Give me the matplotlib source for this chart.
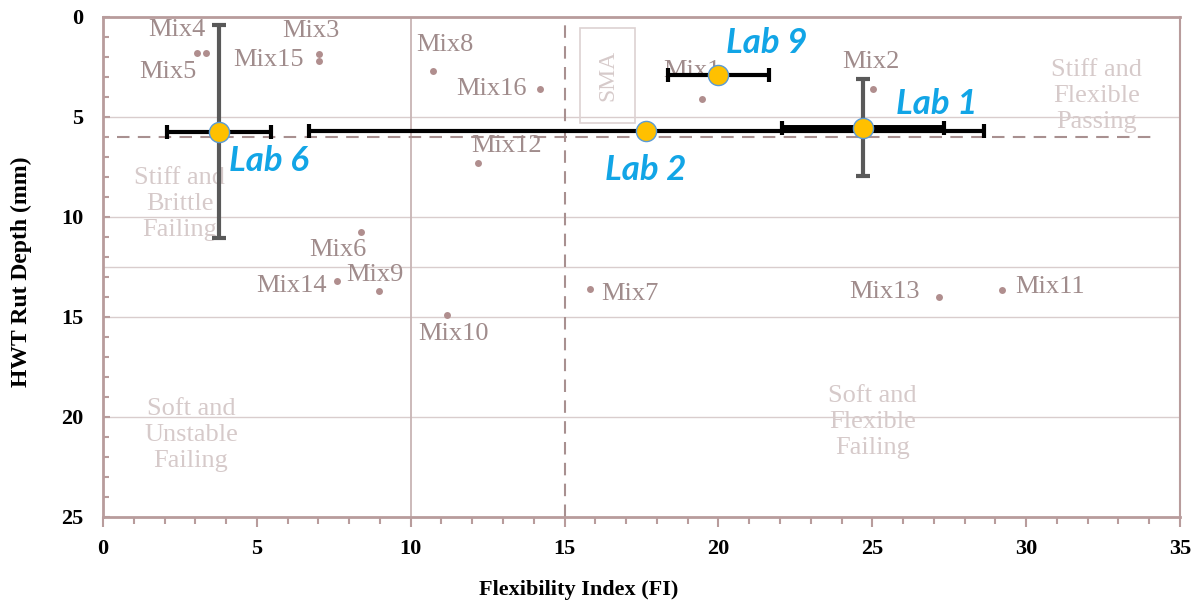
import matplotlib.pyplot as plt
from matplotlib.patches import Rectangle
from matplotlib.ticker import MultipleLocator

# ---------- data ----------
mix_names = ["Mix1", "Mix2", "Mix3", "Mix4", "Mix5", "Mix6", "Mix7", "Mix8",
             "Mix9", "Mix10", "Mix11", "Mix12", "Mix13", "Mix14", "Mix15", "Mix16"]
mix_fi = [19.45, 25.03, 7.02, 3.35, 3.05, 8.38, 15.84, 10.73,
          8.98, 11.17, 29.21, 12.2, 27.16, 7.62, 7.02, 14.2]
mix_rut = [4.09, 3.58, 1.83, 1.79, 1.79, 10.74, 13.58, 2.71,
           13.68, 14.92, 13.67, 7.3, 14.02, 13.2, 2.21, 3.58]

lab_names = ["Lab 1", "Lab 2", "Lab 6", "Lab 9"]
lab_fi = [24.69, 17.65, 3.77, 20.0]
lab_rut = [5.54, 5.71, 5.73, 2.91]
lab_fi_err = [2.63, 10.97, 1.68, 1.63]
lab_rut_err = [2.43, 0.0, 5.33, 0.0]

fi_limit = 15
fi_line = 10
rut_limit = 6.0

# ---------- styling / label placement ----------
MIX_COLOR = "#b08e8e"
MIX_TEXT = "#a08c8c"
ZONE_TEXT = "#d6caca"
SPINE = "#b89c9c"
GRID = "#d9cdcd"
LAB_BLUE = "#12a5e6"

# label offsets (pixels) from each mix point
mix_offsets = {
    "Mix1": (-10, 28), "Mix2": (-2, 27), "Mix3": (-8, 23), "Mix4": (-29, 23),
    "Mix5": (-29, -19), "Mix6": (-23, -18), "Mix7": (39, -5), "Mix8": (12, 26),
    "Mix9": (-4, 16), "Mix10": (7, -19), "Mix11": (48, 3), "Mix12": (28, 17),
    "Mix13": (-54, 5), "Mix14": (-46, -5), "Mix15": (-51, 1), "Mix16": (-48, 0),
}
lab_offsets = {
    "Lab 1": ((33, 24), "left"), "Lab 2": ((0, -39), "center"),
    "Lab 6": ((10, -29), "left"), "Lab 9": ((8, 32), "left"),
}
lab_barwidth = {"Lab 1": 5, "Lab 2": 3, "Lab 6": 3, "Lab 9": 3}

SERIF = ["Liberation Serif", "DejaVu Serif"]

fig = plt.figure(figsize=(11.97, 6.02), dpi=100)
ax = fig.add_axes([103 / 1197, 1 - 517 / 602, 1077 / 1197, 500 / 602])

ax.set_xlim(0, 35)
ax.set_ylim(25, 0)

# grid and reference lines
for yv in [5, 10, 12.5, 15, 20]:
    ax.axhline(yv, color=GRID, lw=1.0, zorder=0)
ax.axvline(fi_line, color="#c8b4b4", lw=1.3, zorder=0)
ax.axvline(fi_limit, color="#a89090", lw=1.5, ls=(0, (6, 4)), zorder=1)
ax.plot([0.45, 34.3], [rut_limit, rut_limit], color="#a89090", lw=1.5,
        ls=(0, (6, 4)), zorder=1)

# SMA box
ax.add_patch(Rectangle((15.5, 0.55), 1.8, 4.75, fill=False, ec="#ddd2d2", lw=1.2, zorder=1))
ax.text(16.4, 2.9, "SMA", rotation=90, ha="center", va="center", fontsize=17,
        color=ZONE_TEXT, family=SERIF)

# zone labels
zones = [
    (2.5, 9.35, "Stiff and\nBrittle\nFailing"),
    (2.86, 20.9, "Soft and\nUnstable\nFailing"),
    (25.0, 20.25, "Soft and\nFlexible\nFailing"),
    (32.3, 3.95, "Stiff and\nFlexible\nPassing"),
]
for zx, zy, zt in zones:
    ax.text(zx, zy, zt, ha="center", va="center", fontsize=19, color=ZONE_TEXT,
            family=SERIF, linespacing=1.25, zorder=1)

# mix points
ax.plot(mix_fi, mix_rut, "o", ms=5, color=MIX_COLOR, mec="none", zorder=2)
for name, fx, ry in zip(mix_names, mix_fi, mix_rut):
    dx, dy = mix_offsets[name]
    ax.annotate(name, (fx, ry), xytext=(dx, dy), textcoords="offset pixels",
                ha="center", va="center", fontsize=19, color=MIX_TEXT,
                family=SERIF, zorder=2)

# lab results with error bars
for name, fx, ry, ex, ey in zip(lab_names, lab_fi, lab_rut, lab_fi_err, lab_rut_err):
    if ey > 0:
        ax.errorbar(fx, ry, yerr=ey, fmt="none", ecolor="#595959", elinewidth=3,
                    capsize=5, capthick=3, zorder=4)
    ax.errorbar(fx, ry, xerr=ex, fmt="none", ecolor="black",
                elinewidth=lab_barwidth[name], capsize=5, capthick=3, zorder=5)
ax.plot(lab_fi, lab_rut, "o", ms=14.5, mfc="#ffc000", mec="#5b9bd5", mew=1.0, zorder=6)
for name, fx, ry in zip(lab_names, lab_fi, lab_rut):
    (dx, dy), ha = lab_offsets[name]
    ax.annotate(name, (fx, ry), xytext=(dx, dy), textcoords="offset pixels",
                ha=ha, va="center", fontsize=25, color=LAB_BLUE,
                family=["Lato", "DejaVu Sans"], fontweight="bold", style="italic",
                zorder=7)

# axes
for side in ["left", "bottom", "top"]:
    ax.spines[side].set_color(SPINE)
    ax.spines[side].set_linewidth(2)
ax.spines["right"].set_color(SPINE)
ax.spines["right"].set_linewidth(1.5)

ax.xaxis.set_major_locator(MultipleLocator(5))
ax.xaxis.set_minor_locator(MultipleLocator(1))
ax.yaxis.set_major_locator(MultipleLocator(5))
ax.yaxis.set_minor_locator(MultipleLocator(1))
ax.tick_params(axis="x", which="both", direction="out", color=SPINE, width=1.5)
ax.tick_params(axis="x", which="major", length=7, pad=9, labelsize=16)
ax.tick_params(axis="x", which="minor", length=5)
ax.tick_params(axis="y", which="both", direction="in", color=SPINE, width=1.5)
ax.tick_params(axis="y", which="major", length=5, pad=14, labelsize=16)
ax.tick_params(axis="y", which="minor", length=4)
for lbl in ax.get_xticklabels() + ax.get_yticklabels():
    lbl.set_fontfamily(SERIF)
    lbl.set_fontweight("bold")

ax.set_xlabel("Flexibility Index (FI)", fontsize=16, fontweight="bold", family=SERIF)
ax.xaxis.set_label_coords(0.442, -0.126)
ax.set_ylabel("HWT Rut Depth (mm)", fontsize=17, fontweight="bold", family=SERIF)
ax.yaxis.set_label_coords(-0.066, 0.49)

fig.savefig("out.png", dpi=100)
